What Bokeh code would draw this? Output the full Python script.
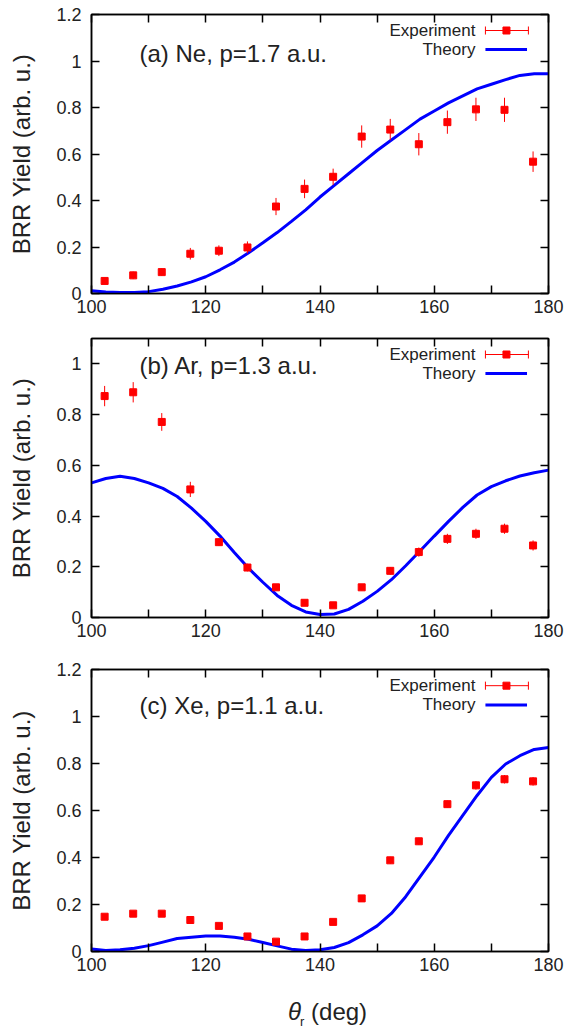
from bokeh.plotting import figure
from bokeh.layouts import column
from bokeh.models import LinearAxis, FixedTicker, Label, Range1d, Div
from bokeh.embed import file_html
from bokeh.resources import INLINE

# ---------------- data ----------------
theta_exp = [102.3, 107.3, 112.3, 117.3, 122.3, 127.3, 132.3, 137.3,
             142.3, 147.3, 152.3, 157.3, 162.3, 167.3, 172.3, 177.3]

ne_exp = [0.054, 0.078, 0.092, 0.171, 0.184, 0.198, 0.374, 0.450,
          0.502, 0.675, 0.705, 0.642, 0.737, 0.792, 0.790, 0.567]
ne_err = [0.012, 0.016, 0.016, 0.025, 0.023, 0.026, 0.037, 0.040,
          0.035, 0.048, 0.046, 0.048, 0.050, 0.050, 0.052, 0.044]

ar_exp = [0.873, 0.888, 0.771, 0.505, 0.297, 0.197, 0.119, 0.058,
          0.048, 0.119, 0.184, 0.258, 0.310, 0.330, 0.350, 0.284]
ar_err = [0.040, 0.040, 0.035, 0.030, 0.015, 0.015, 0.012, 0.010,
          0.010, 0.012, 0.015, 0.018, 0.020, 0.020, 0.020, 0.020]

xe_exp = [0.148, 0.161, 0.161, 0.134, 0.109, 0.064, 0.042, 0.064,
          0.126, 0.226, 0.388, 0.469, 0.627, 0.707, 0.733, 0.724]
xe_err = [0.010, 0.010, 0.010, 0.010, 0.010, 0.008, 0.008, 0.008,
          0.010, 0.012, 0.015, 0.015, 0.015, 0.018, 0.018, 0.018]

theta_th = [100, 102.5, 105, 107.5, 110, 112.5, 115, 117.5, 120, 122.5,
            125, 127.5, 130, 132.5, 135, 137.5, 140, 142.5, 145, 147.5,
            150, 152.5, 155, 157.5, 160, 162.5, 165, 167.5, 170, 172.5,
            175, 177.5, 180]

ne_th = [0.012, 0.006, 0.004, 0.004, 0.008, 0.018, 0.032, 0.050, 0.072, 0.102,
         0.135, 0.175, 0.218, 0.262, 0.310, 0.360, 0.415, 0.465, 0.515, 0.565,
         0.615, 0.660, 0.705, 0.750, 0.785, 0.820, 0.850, 0.880, 0.900, 0.920,
         0.938, 0.945, 0.945]

ar_th = [0.531, 0.548, 0.557, 0.548, 0.531, 0.509, 0.477, 0.431, 0.379, 0.321,
         0.256, 0.194, 0.139, 0.087, 0.048, 0.022, 0.012, 0.014, 0.032, 0.064,
         0.103, 0.149, 0.204, 0.262, 0.321, 0.379, 0.434, 0.483, 0.516, 0.539,
         0.558, 0.571, 0.581]

xe_th = [0.011, 0.004, 0.007, 0.014, 0.025, 0.040, 0.055, 0.061, 0.066, 0.066,
         0.061, 0.052, 0.038, 0.024, 0.010, 0.004, 0.007, 0.017, 0.038, 0.071,
         0.109, 0.162, 0.233, 0.318, 0.402, 0.494, 0.579, 0.664, 0.741, 0.798,
         0.833, 0.860, 0.868]

x_ticks = [100, 110, 120, 130, 140, 150, 160, 170, 180]
x_tick_labels = ["100", "", "120", "", "140", "", "160", "", "180"]
y_ticks_12 = [0, 0.2, 0.4, 0.6, 0.8, 1.0, 1.2]
y_labels_12 = ["0", "0.2", "0.4", "0.6", "0.8", "1", "1.2"]
y_ticks_11 = [0, 0.2, 0.4, 0.6, 0.8, 1.0]
y_labels_11 = ["0", "0.2", "0.4", "0.6", "0.8", "1"]

titles = ["(a) Ne, p=1.7 a.u.", "(b) Ar, p=1.3 a.u.", "(c) Xe, p=1.1 a.u."]

FONT = "Liberation Sans"
TXT = "#222222"
RED = "#ff0000"
BLUE = "#0000ff"
XMIN, XMAX = 100, 180


def style_axis(ax, ticks, labels, show):
    ax.ticker = FixedTicker(ticks=ticks)
    ax.major_label_overrides = {t: (l if show else "") for t, l in zip(ticks, labels)}
    ax.minor_tick_line_color = None
    ax.major_tick_in = 8
    ax.major_tick_out = 0
    ax.major_tick_line_color = "black"
    ax.major_tick_line_width = 1.5
    ax.axis_line_color = "black"
    ax.axis_line_width = 1.5
    ax.major_label_text_font = FONT
    ax.major_label_text_color = TXT
    if show:
        ax.major_label_text_font_size = "18px"
    else:
        ax.major_label_text_font_size = "0px"
        ax.major_label_standoff = 0


def panel(exp_y, exp_err, th_y, ymax, yticks, ylabels, title, title_y,
          height, b_top, b_bottom):
    p = figure(width=570, height=height, output_backend="svg",
               toolbar_location=None, x_range=Range1d(XMIN, XMAX),
               y_range=Range1d(0, ymax), min_border_left=91,
               min_border_right=22, min_border_top=b_top,
               min_border_bottom=b_bottom)
    p.grid.visible = False
    p.outline_line_color = "black"
    p.outline_line_width = 1.5
    p.background_fill_color = "white"

    style_axis(p.xaxis[0], x_ticks, x_tick_labels, True)
    p.xaxis[0].major_label_standoff = 6
    style_axis(p.yaxis[0], yticks, ylabels, True)
    p.yaxis[0].major_label_standoff = 10
    p.yaxis[0].axis_label = "BRR Yield (arb. u.)"
    p.yaxis[0].axis_label_text_font = FONT
    p.yaxis[0].axis_label_text_font_size = "24px"
    p.yaxis[0].axis_label_text_font_style = "normal"
    p.yaxis[0].axis_label_text_color = TXT
    p.yaxis[0].axis_label_standoff = 18

    top = LinearAxis()
    style_axis(top, x_ticks, x_tick_labels, False)
    p.add_layout(top, "above")
    right = LinearAxis()
    style_axis(right, yticks, ylabels, False)
    p.add_layout(right, "right")

    # theory curve
    p.line(theta_th, th_y, line_color=BLUE, line_width=3)
    # experiment with error bars
    y0 = [y - e for y, e in zip(exp_y, exp_err)]
    y1 = [y + e for y, e in zip(exp_y, exp_err)]
    p.segment(x0=theta_exp, y0=y0, x1=theta_exp, y1=y1,
              line_color=RED, line_width=1)
    p.scatter(theta_exp, exp_y, marker="square", size=7,
              fill_color=RED, line_color=RED)

    # panel title
    p.add_layout(Label(x=108.4, y=title_y, text=title, text_font=FONT,
                       text_font_size="24px", text_color=TXT,
                       text_baseline="middle", text_align="left"))

    # legend (gnuplot style: text left, sample right)
    fx = lambda f: XMIN + f * (XMAX - XMIN)
    fy = lambda f: f * ymax
    ye, yt = fy(1 - 16 / 279), fy(1 - 35 / 279)
    p.add_layout(Label(x=fx(0.840), y=ye, text="Experiment", text_font=FONT,
                       text_font_size="17px", text_color=TXT,
                       text_baseline="middle", text_align="right"))
    p.add_layout(Label(x=fx(0.840), y=yt, text="Theory", text_font=FONT,
                       text_font_size="17px", text_color=TXT,
                       text_baseline="middle", text_align="right"))
    cap = 4 * ymax / 279
    p.segment(x0=[fx(0.862)], y0=[ye], x1=[fx(0.956)], y1=[ye],
              line_color=RED, line_width=1)
    p.segment(x0=[fx(0.862), fx(0.956)], y0=[ye - cap, ye - cap],
              x1=[fx(0.862), fx(0.956)], y1=[ye + cap, ye + cap],
              line_color=RED, line_width=1)
    p.scatter([fx(0.908)], [ye], marker="square", size=7,
              fill_color=RED, line_color=RED)
    p.segment(x0=[fx(0.862)], y0=[yt], x1=[fx(0.953)], y1=[yt],
              line_color=BLUE, line_width=3)
    return p


pa = panel(ne_exp, ne_err, ne_th, 1.2, y_ticks_12, y_labels_12, titles[0],
           1.032, 321, 14, 28)
pb = panel(ar_exp, ar_err, ar_th, 1.1, y_ticks_11, y_labels_11, titles[1],
           0.994, 323, 17, 27)
pc = panel(xe_exp, xe_err, xe_th, 1.2, y_ticks_12, y_labels_12, titles[2],
           1.047, 341, 25, 34)

xlabel = Div(
    text=("<div style=\"padding-left:283px;padding-top:8px;"
          "font-family:'Liberation Sans';font-size:24px;color:#222222;"
          "line-height:28px;white-space:nowrap\">"
          "<i>&theta;</i><sub style=\"font-size:13px;margin-left:-1px;"
          "vertical-align:-6px;line-height:13px\">r</sub> (deg)</div>"),
    width=570, height=44)

layout = column(pa, pb, pc, xlabel, spacing=0)
open("out.html", "w").write(file_html(layout, INLINE))
